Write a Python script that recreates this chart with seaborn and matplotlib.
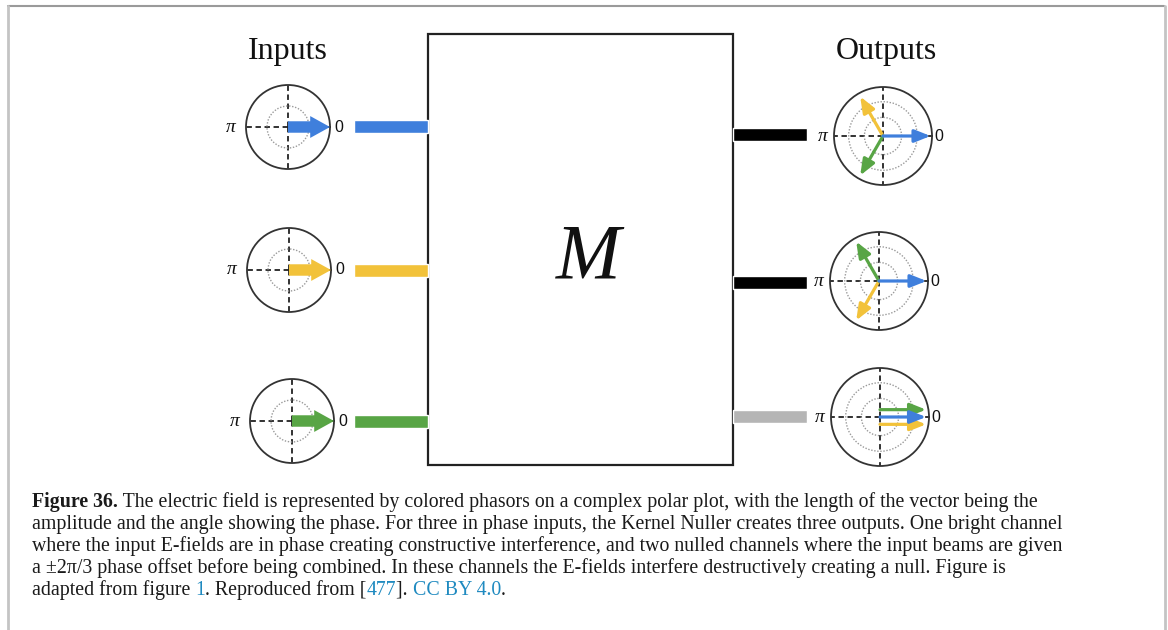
import numpy as np
import matplotlib
matplotlib.use("Agg")
import matplotlib.pyplot as plt
import seaborn as sns

# phasors: one entry per beam (blue, yellow, green); phase in degrees, amplitude as fraction of circle radius
beam_colors = ["#3f7fdc", "#f2c23a", "#58a545"]
input_amp = [1.0, 1.0, 1.0]
input_phase = [0, 0, 0]

out_amp = [[0.97, 0.93, 0.93],
           [0.97, 0.93, 0.93],
           [0.94, 0.94, 0.94]]
out_phase = [[0, 120, 240],
             [0, 240, 120],
             [0, 0, 0]]
# small vertical shift so the three in-phase phasors of the bright output stay visible
out_shift = [[0, 0, 0], [0, 0, 0], [0, -0.15, 0.15]]

out_bar_colors = ["#000000", "#000000", "#b5b5b5"]

caption = [
    "amplitude and the angle showing the phase. For three in phase inputs, the Kernel Nuller creates three outputs. One bright channel",
    "where the input E-fields are in phase creating constructive interference, and two nulled channels where the input beams are given",
    "a \u00b12\u03c0/3 phase offset before being combined. In these channels the E-fields interfere destructively creating a null. Figure is",
]
caption_first = ("Figure 36.", " The electric field is represented by colored phasors on a complex polar plot, with the length of the vector being the")
caption_last = [("adapted from figure ", "k"), ("1", "#1f8ac0"), (". Reproduced from [", "k"),
                ("477", "#1f8ac0"), ("]. ", "k"), ("CC BY 4.0", "#1f8ac0"), (".", "k")]

W, H = 1168, 630
sns.set_theme(style="white")
plt.rcParams["font.family"] = ["Liberation Serif", "DejaVu Serif"]
plt.rcParams["text.color"] = "#111111"

fig = plt.figure(figsize=(W / 100, H / 100), dpi=100)
ax = fig.add_axes([0, 0, 1, 1])
ax.set_xlim(0, W)
ax.set_ylim(H, 0)
ax.axis("off")

# page frame
ax.plot([8, 1164], [6, 6], color="#9a9a9a", lw=1.5)
ax.plot([8, 8], [6, H], color="#c4c4c4", lw=2)
ax.plot([1164.5, 1164.5], [6, H], color="#c4c4c4", lw=2)

# the M box
ax.add_patch(plt.Rectangle((428, 34), 305, 431, fill=False, ec="#222222", lw=1.6))
ax.text(588, 278, "M", fontsize=56, style="italic", ha="center", va="baseline")
ax.text(288, 59, "Inputs", fontsize=23, ha="center", va="baseline")
ax.text(886, 59, "Outputs", fontsize=23, ha="center", va="baseline")

in_centers = [(288, 127), (289, 270), (292, 421)]
out_centers = [(883, 136), (879, 281), (880, 417)]
in_bar_y = [126, 270, 421]
out_bar_y = [134, 282, 416]

ax.barh(in_bar_y, [74] * 3, left=354, height=13, color=beam_colors)
ax.barh(out_bar_y, [74] * 3, left=733, height=13, color=out_bar_colors)


def phasor_axes(cx, cy, r, rings, pi_gap, zero_gap):
    pax = fig.add_axes([(cx - r) / W, 1 - (cy + r) / H, 2 * r / W, 2 * r / H], projection="polar")
    pax.set_ylim(0, 1)
    pax.set_xticks(np.deg2rad([0, 90, 180, 270]))
    pax.set_xticklabels([])
    pax.set_yticks(rings)
    pax.set_yticklabels([])
    pax.xaxis.grid(True, color="#222222", ls=(0, (3, 2)), lw=1.3)
    pax.yaxis.grid(True, color="#9a9a9a", ls=(0, (1, 1.2)), lw=1.0)
    pax.spines["polar"].set_color("#333333")
    pax.spines["polar"].set_linewidth(1.3)
    pax.set_facecolor("none")
    pax.tick_params(length=0)
    pax.annotate("\u03c0", xy=(np.pi, 1), xytext=(-pi_gap, 0), textcoords="offset pixels",
                 ha="center", va="center", fontsize=14, style="italic", annotation_clip=False)
    pax.annotate("0", xy=(0, 1), xytext=(zero_gap, 0), textcoords="offset pixels",
                 ha="center", va="center", fontsize=11.5, family="Liberation Sans", annotation_clip=False)
    return pax


def phasor(pax, amp, phase, color, fat, shift=0.0):
    th = np.deg2rad(phase)
    x1, y1 = amp * np.cos(th), amp * np.sin(th) + shift
    start = (np.pi / 2 if shift > 0 else -np.pi / 2, abs(shift))
    end = (np.arctan2(y1, x1), np.hypot(x1, y1))
    if fat:
        props = dict(arrowstyle="simple,head_length=0.95,head_width=1.05,tail_width=0.55",
                     fc=color, ec="none", mutation_scale=15, shrinkA=0, shrinkB=0)
    else:
        props = dict(arrowstyle="-|>,head_length=0.95,head_width=0.38", color=color,
                     lw=2.3, mutation_scale=10, shrinkA=0, shrinkB=0)
    pax.annotate("", xy=end, xytext=start, arrowprops=props, annotation_clip=False)


for (cx, cy), amp, ph, col in zip(in_centers, input_amp, input_phase, beam_colors):
    pax = phasor_axes(cx, cy, 42, [0.5], 15, 9)
    phasor(pax, amp, ph, col, True)

for (cx, cy), amps, phs, shs in zip(out_centers, out_amp, out_phase, out_shift):
    pax = phasor_axes(cx, cy, 49, [0.38, 0.7], 11, 7)
    # draw blue last so it sits on top, like the original
    for k in [1, 2, 0]:
        phasor(pax, amps[k], phs[k], beam_colors[k], False, shs[k])

# caption
cap_kw = dict(fontsize=14.3, va="baseline", ha="left", color="#1a1a1a")
t = ax.text(32, 507, caption_first[0], fontweight="bold", **cap_kw)
ax.annotate(caption_first[1], xy=(1, 507), xycoords=(t, "data"), **cap_kw)
for i, line in enumerate(caption):
    ax.text(32, 529 + 22 * i, line, **cap_kw)
prev = None
for txt, col in caption_last:
    kw = dict(cap_kw, color=col if col != "k" else "#1a1a1a")
    if prev is None:
        prev = ax.text(32, 595, txt, **kw)
    else:
        prev = ax.annotate(txt, xy=(1, 595), xycoords=(prev, "data"), **kw)

fig.savefig("out.png", dpi=100)
